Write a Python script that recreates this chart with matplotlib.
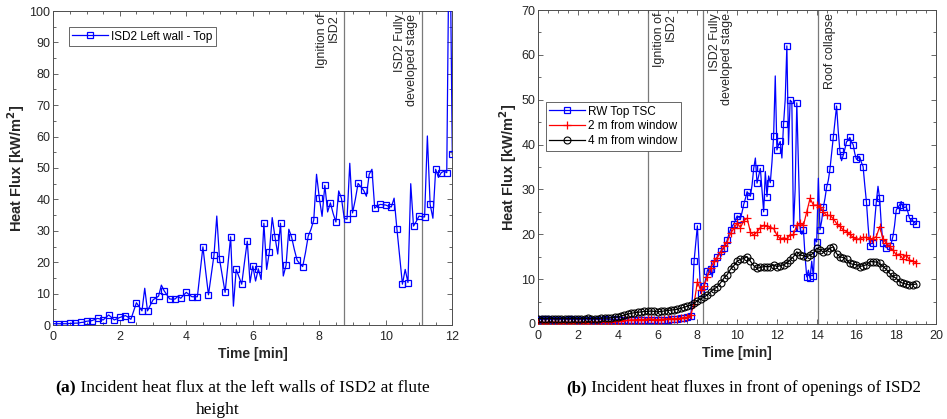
import numpy as np
import matplotlib
matplotlib.use("Agg")
import matplotlib.pyplot as plt
from matplotlib.ticker import MultipleLocator

plt.rcParams['font.family'] = ['Liberation Sans', 'DejaVu Sans']

# (a) left wall of ISD2, one sample every 5 s [kW/m2]
left_top = [
    0.4, 0.4, 0.4, 0.4, 0.4, 0.4, 0.5, 0.5, 0.6, 0.6, 0.8, 0.9,
    1.2, 1.3, 1.4, 1.8, 2.1, 1.9, 1.6, 2.4, 3.2, 2.4, 1.6, 2.0,
    2.4, 2.7, 3.0, 2.5, 1.8, 4.5, 7.1, 5.8, 4.5, 11.7, 4.5, 6.3,
    8.0, 8.6, 9.2, 12.7, 10.9, 9.6, 8.3, 8.2, 8.3, 9.2, 8.5, 9.5,
    10.4, 9.7, 9.0, 9.0, 9.0, 17.0, 24.9, 17.0, 9.6, 16.0, 22.3, 34.7,
    20.9, 15.6, 10.4, 19.0, 28.1, 6.0, 17.7, 15.3, 13.0, 20.0, 26.7, 13.5,
    18.8, 14.0, 17.9, 14.5, 32.4, 17.7, 23.4, 34.2, 28.1, 22.6, 32.4, 15.6,
    19.0, 30.5, 28.0, 24.0, 20.6, 19.5, 18.6, 23.0, 28.3, 30.5, 33.4, 48.0,
    40.5, 34.6, 44.5, 36.0, 38.9, 35.5, 32.8, 42.7, 40.3, 34.0, 33.7, 51.5,
    35.7, 40.0, 45.1, 44.0, 42.9, 41.0, 48.0, 49.6, 37.2, 38.0, 38.4, 38.3,
    38.2, 37.8, 37.6, 40.4, 30.7, 22.0, 13.0, 17.7, 13.5, 45.0, 31.5, 33.0,
    34.7, 34.5, 34.4, 60.2, 38.4, 34.0, 49.6, 47.0, 48.5, 49.0, 48.5, 140.0,
    54.4,
]

# (b) RW top TSC, one sample every 5 s
rw_top = [
    1.0, 1.0, 1.1, 1.0, 1.0, 1.0, 1.1, 1.0, 1.0, 1.0, 1.0, 1.0,
    1.0, 1.0, 1.0, 1.1, 1.0, 1.0, 1.0, 1.0, 1.1, 1.0, 1.0, 1.0,
    1.0, 1.0, 1.0, 1.0, 1.0, 1.1, 1.0, 1.0, 1.0, 1.0, 1.0, 1.0,
    1.0, 1.0, 1.0, 1.0, 1.1, 1.0, 1.0, 1.0, 1.0, 1.0, 1.1, 1.0,
    1.0, 1.0, 0.9, 0.9, 0.9, 0.8, 0.8, 0.8, 0.8, 0.8, 0.8, 0.8,
    0.8, 0.8, 0.8, 0.8, 0.8, 0.9, 0.9, 0.8, 0.8, 0.9, 0.9, 0.9,
    0.9, 0.9, 1.0, 1.0, 1.0, 1.0, 1.0, 1.1, 1.1, 1.1, 1.2, 1.2,
    1.2, 1.2, 1.3, 1.3, 1.4, 1.4, 1.5, 1.6, 1.8, 6.0, 14.0, 18.0,
    21.9, 14.0, 6.8, 7.5, 8.5, 10.0, 11.9, 12.5, 12.2, 10.5, 13.5, 14.2,
    15.0, 15.5, 16.2, 16.5, 16.9, 17.8, 18.7, 20.0, 21.0, 21.8, 22.3, 23.2,
    24.1, 23.8, 23.5, 25.0, 26.7, 28.0, 29.5, 29.0, 28.5, 31.0, 34.7, 37.0,
    31.4, 33.0, 34.7, 30.0, 25.0, 34.0, 28.4, 33.0, 31.5, 36.0, 41.9, 55.3,
    38.8, 40.0, 40.7, 37.0, 44.6, 50.0, 62.0, 40.0, 49.9, 49.5, 21.5, 30.0,
    49.3, 35.0, 21.3, 20.0, 21.0, 15.0, 10.5, 12.0, 10.2, 14.0, 10.6, 19.0,
    18.3, 32.5, 21.0, 23.0, 26.0, 28.0, 30.5, 32.0, 34.5, 38.0, 41.6, 45.0,
    48.6, 43.0, 38.6, 36.4, 37.6, 39.0, 40.6, 41.0, 41.6, 40.5, 40.0, 38.0,
    36.7, 37.0, 37.2, 36.0, 35.1, 31.0, 27.3, 22.0, 17.5, 19.0, 18.0, 23.0,
    27.3, 30.7, 28.0, 22.0, 18.0, 17.5, 17.0, 17.2, 17.5, 18.0, 19.5, 22.0,
    25.4, 26.0, 26.5, 27.3, 26.0, 26.0, 26.1, 25.0, 23.6, 23.2, 23.0, 22.6,
    22.4,
]

# (b) plate thermometers in front of the window, one sample every 10 s
two_m = [
    0.4, 0.4, 0.3, 0.4, 0.4, 0.4,
    0.4, 0.3, 0.4, 0.4, 0.3, 0.4,
    0.4, 0.4, 0.3, 0.4, 0.4, 0.4,
    0.4, 0.4, 0.5, 0.5, 0.5, 0.6,
    0.6, 0.7, 0.8, 0.8, 0.9, 0.9,
    1.0, 1.0, 1.0, 1.1, 1.1, 1.0,
    1.0, 1.0, 1.1, 1.1, 1.2, 1.2,
    1.2, 1.3, 1.4, 1.5, 2.0, 4.5,
    9.4, 7.5, 8.5, 10.5, 12.5, 14.0,
    14.8, 16.0, 17.3, 18.3, 20.2, 21.3,
    22.5, 21.5, 23.0, 23.6, 20.5, 19.8,
    20.5, 21.5, 22.0, 21.8, 21.5, 21.3,
    19.8, 19.0, 19.2, 19.0, 19.8, 20.0,
    22.0, 22.5, 22.0, 25.0, 28.0, 26.5,
    26.5, 26.1, 25.0, 24.2, 24.2, 23.5,
    22.4, 21.8, 21.0, 20.6, 20.0, 19.3,
    18.9, 19.0, 19.3, 19.3, 19.0, 19.0,
    19.5, 21.7, 19.0, 18.0, 17.3, 16.5,
    15.4, 15.6, 14.5, 15.4, 14.3, 14.0,
    13.7,
]
four_m = [
    1.2, 1.2, 1.2, 1.2, 1.2, 1.2,
    1.2, 1.2, 1.2, 1.2, 1.2, 1.2,
    1.2, 1.2, 1.2, 1.3, 1.2, 1.2,
    1.2, 1.3, 1.3, 1.3, 1.4, 1.5,
    1.6, 1.8, 2.0, 2.2, 2.4, 2.5,
    2.6, 2.7, 2.8, 2.8, 2.9, 2.8,
    2.7, 2.8, 2.9, 3.0, 3.1, 3.2,
    3.3, 3.5, 3.7, 4.0, 4.2, 4.6,
    5.2, 5.6, 6.0, 6.5, 7.2, 7.8,
    8.3, 9.2, 10.2, 11.0, 12.2, 13.0,
    14.0, 14.4, 14.6, 15.0, 14.0, 13.0,
    12.4, 12.6, 12.8, 12.8, 12.8, 13.2,
    12.8, 13.0, 13.2, 13.6, 14.3, 15.0,
    16.1, 15.4, 15.2, 15.0, 15.3, 15.8,
    16.9, 16.6, 16.0, 16.3, 16.9, 17.2,
    15.7, 15.0, 14.8, 14.4, 13.5, 13.3,
    13.2, 12.8, 13.0, 13.2, 13.9, 13.9,
    13.8, 13.5, 12.8, 12.2, 11.3, 10.6,
    10.2, 9.4, 9.1, 8.9, 8.7, 8.8,
    8.9,
]

# event times [min]
events_a = [(8.75, "Ignition of\nISD2"), (11.1, "ISD2 Fully\ndeveloped stage")]
events_b = [(5.5, "Ignition of\nISD2"), (8.3, "ISD2 Fully\ndeveloped stage"),
            (14.07, "Roof collapse")]

t_left = np.arange(len(left_top)) / 12.0
t_rw = np.arange(len(rw_top)) / 12.0
t_pt = np.arange(len(two_m)) / 6.0

W, H = 947, 419
fig = plt.figure(figsize=(W / 100, H / 100), dpi=100)
ax1 = fig.add_axes([53.3 / W, 1 - 325 / H, 399 / W, 314 / H])
ax2 = fig.add_axes([538.3 / W, 1 - 324 / H, 397.7 / W, 314 / H])

edge = '#4d4d4d'
txt = '#262626'


def style(ax, xmax, ymax):
    ax.set_xlim(0, xmax)
    ax.set_ylim(0, ymax)
    ax.xaxis.set_major_locator(MultipleLocator(2))
    ax.xaxis.set_minor_locator(MultipleLocator(0.5))
    ax.yaxis.set_major_locator(MultipleLocator(10))
    ax.yaxis.set_minor_locator(MultipleLocator(5))
    ax.tick_params(which='both', direction='in', top=True, right=True,
                   colors=edge, labelcolor=txt, labelsize=9, width=0.6)
    ax.tick_params(which='major', length=3.5)
    ax.tick_params(which='minor', length=2)
    ax.tick_params(axis='x', pad=4)
    ax.tick_params(axis='y', pad=2)
    for s in ax.spines.values():
        s.set_color(edge)
        s.set_linewidth(0.7)
    ax.set_xlabel('Time [min]', fontsize=10, fontweight='bold', color=txt, labelpad=3)
    ax.set_ylabel('Heat Flux [kW/m$^\\mathbf{2}$]', fontsize=10.5,
                  fontweight='bold', color=txt, labelpad=2)


def events(ax, evs, side):
    for x, label in evs:
        ax.axvline(x, color='#7a7a7a', lw=0.9, zorder=1)
        dx = -3 if side == 'left' else 4
        ax.annotate(label, xy=(x, 1), xycoords=('data', 'axes fraction'),
                    xytext=(dx, -2), textcoords='offset points',
                    rotation=90, ha=('right' if side == 'left' else 'left'),
                    va='top', multialignment='right', fontsize=9,
                    color=txt, linespacing=1.0)


# (a)
style(ax1, 12, 100)
events(ax1, events_a, 'left')
ax1.plot(t_left, left_top, color='#0000ff', lw=0.9, marker='s', ms=4.5,
         mfc='none', mew=0.9, markevery=2, label='ISD2 Left wall - Top', zorder=3)
leg1 = ax1.legend(loc='upper left', bbox_to_anchor=(0.039, 0.949),
                  borderaxespad=0, fontsize=8.5, handlelength=3,
                  fancybox=False, framealpha=1, edgecolor=edge,
                  borderpad=0.3, handletextpad=0.3)
leg1.get_frame().set_linewidth(0.6)

# (b)
style(ax2, 20, 70)
events(ax2, events_b, 'right')
ax2.plot(t_rw, rw_top, color='#0000ff', lw=0.9, marker='s', ms=4.5,
         mfc='none', mew=0.9, markevery=2, label='RW Top TSC', zorder=3)
ax2.plot(t_pt, two_m, color='#ff0000', lw=0.9, marker='+', ms=5.5,
         mew=0.9, label='2 m from window', zorder=4)
ax2.plot(t_pt, four_m, color='#000000', lw=0.9, marker='o', ms=5,
         mfc='none', mew=0.8, label='4 m from window', zorder=5)
leg2 = ax2.legend(loc='upper left', bbox_to_anchor=(0.019, 0.707),
                  borderaxespad=0, fontsize=8.5, handlelength=3,
                  fancybox=False, framealpha=1, edgecolor=edge,
                  borderpad=0.3, handletextpad=0.3, labelspacing=0.25)
leg2.get_frame().set_linewidth(0.6)

# captions: bold sub-figure tag followed by the plain text
cap = dict(family=['Liberation Serif', 'DejaVu Serif'], fontsize=12.6, color='black')
ca = fig.text(55 / W, 1 - 388 / H, '(a)', fontweight='bold', ha='left', va='center', **cap)
ax1.annotate(' Incident heat flux at the left walls of ISD2 at flute',
             xy=(1, 0), xycoords=ca, ha='left', va='bottom',
             annotation_clip=False, **cap)
fig.text(218 / W, 1 - 410 / H, 'height', ha='center', va='center', **cap)
cap_b = dict(cap, fontsize=12.2)
cb = fig.text(566 / W, 1 - 388 / H, '(b)', fontweight='bold', ha='left', va='center', **cap_b)
ax2.annotate(' Incident heat fluxes in front of openings of ISD2',
             xy=(1, 0), xycoords=cb, ha='left', va='bottom',
             annotation_clip=False, **cap_b)

fig.savefig('out.png', dpi=100)
